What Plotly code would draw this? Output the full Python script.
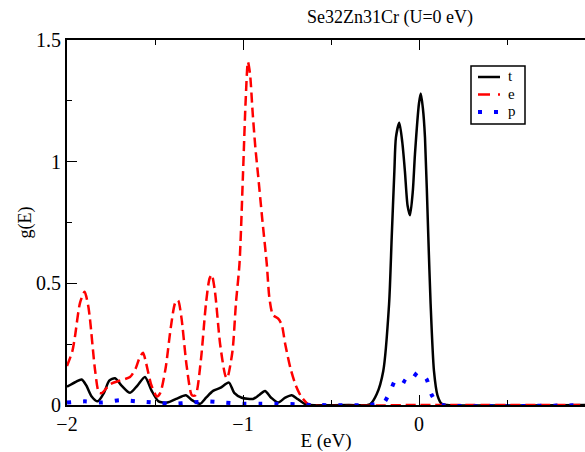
import plotly.graph_objects as go

# ---- data ----
t_E = [-2.00, -1.95, -1.917, -1.89, -1.86, -1.825, -1.79, -1.76, -1.727, -1.69, -1.642,
       -1.60, -1.557, -1.52, -1.48, -1.43, -1.38, -1.324, -1.29, -1.244, -1.21, -1.17,
       -1.13, -1.08, -1.05, -1.007, -0.943, -0.91, -0.875, -0.84, -0.801, -0.76, -0.723,
       -0.69, -0.65, -0.62, -0.40, -0.278, -0.24, -0.203, -0.17, -0.155, -0.14, -0.131,
       -0.112, -0.095, -0.08, -0.065, -0.051, -0.035, -0.023, 0.0, 0.01, 0.022, 0.034,
       0.053, 0.066, 0.085, 0.105, 0.129, 0.16, 1.0]
t_g = [0.075, 0.095, 0.105, 0.08, 0.035, 0.015, 0.05, 0.10, 0.11, 0.08, 0.05,
       0.08, 0.115, 0.06, 0.015, 0.01, 0.025, 0.04, 0.02, 0.005, 0.03, 0.058,
       0.07, 0.092, 0.05, 0.03, 0.025, 0.04, 0.058, 0.03, 0.01, 0.03, 0.04,
       0.025, 0.005, 0.0, 0.0, 0.003, 0.045, 0.14, 0.415, 0.69, 0.96, 1.10,
       1.16, 1.08, 0.96, 0.82, 0.78, 0.88, 1.03, 1.24, 1.28, 1.22, 1.10,
       0.69, 0.415, 0.14, 0.04, 0.005, 0.0, 0.0]

e_E = [-2.00, -1.97, -1.955, -1.926, -1.90, -1.88, -1.869, -1.84, -1.818, -1.80, -1.756,
       -1.70, -1.642, -1.61, -1.59, -1.568, -1.55, -1.52, -1.489, -1.47, -1.44, -1.41,
       -1.385, -1.369, -1.35, -1.32, -1.29, -1.27, -1.24, -1.21, -1.19, -1.178, -1.16,
       -1.13, -1.10, -1.09, -1.06, -1.04, -1.02, -1.00, -0.985, -0.972, -0.96, -0.945,
       -0.93, -0.915, -0.89, -0.865, -0.85, -0.83, -0.80, -0.78, -0.76, -0.73, -0.70,
       -0.67, -0.64, -0.62, 0.0, 1.0]
e_g = [0.16, 0.22, 0.28, 0.42, 0.465, 0.41, 0.35, 0.14, 0.05, 0.05, 0.085,
       0.10, 0.115, 0.15, 0.19, 0.215, 0.17, 0.08, 0.035, 0.05, 0.15, 0.32,
       0.42, 0.43, 0.36, 0.16, 0.04, 0.04, 0.18, 0.42, 0.52, 0.535, 0.47,
       0.25, 0.12, 0.11, 0.22, 0.42, 0.58, 0.95, 1.25, 1.41, 1.36, 1.20,
       1.06, 0.95, 0.76, 0.58, 0.44, 0.37, 0.355, 0.33, 0.25, 0.15, 0.08,
       0.035, 0.01, 0.0, 0.0, 0.0]

p_E = [-2.0, -1.9, -1.8, -1.7, -1.6, -1.5, -1.4, -1.3, -1.2, -1.1, -1.0, -0.9, -0.8,
       -0.7, -0.6, -0.3, -0.25, -0.2, -0.165, -0.125, -0.09, -0.057, -0.03, -0.006,
       0.02, 0.044, 0.07, 0.10, 0.13, 1.0]
p_g = [0.01, 0.015, 0.01, 0.02, 0.015, 0.01, 0.005, 0.01, 0.015, 0.01, 0.005, 0.005, 0.005,
       0.003, 0.0, 0.0, 0.003, 0.01, 0.055, 0.112, 0.10, 0.09, 0.115, 0.135,
       0.125, 0.105, 0.045, 0.01, 0.0, 0.0]

series_names = ["t", "e", "p"]
title = "Se32Zn31Cr (U=0 eV)"
x_ticks = [-2, -1, 0]
y_ticks = [0, 0.5, 1, 1.5]

FONT = "Liberation Serif, Times New Roman, serif"
COLORS = ["black", "#ff0000", "#0000ff"]
DASHES = ["solid", "10px,5px", "4px,12px"]
WIDTHS = [2.5, 2.5, 4]

# figure fills the whole 585x452 page (body margin removed by post_script)
W, H = 585, 452
L, T, B = 67, 40, 452 - 405
PW, PH = W - L, H - T - B


def px_x(px):  # page pixel -> paper x
    return (px - L) / PW


def px_y(py):  # page pixel -> paper y
    return (H - B - py) / PH


fig = go.Figure()
for name, xs, ys, c, d, w in zip(series_names, [t_E, e_E, p_E], [t_g, e_g, p_g],
                                 COLORS, DASHES, WIDTHS):
    fig.add_trace(go.Scatter(x=xs, y=ys, name=name, mode="lines", showlegend=False,
                             line=dict(color=c, width=w, dash=d,
                                       shape="spline", smoothing=0.7)))

# Grace-style legend box
shapes = [dict(type="rect", xref="paper", yref="paper",
               x0=px_x(471), x1=px_x(525), y0=px_y(124), y1=px_y(66),
               line=dict(color="black", width=1.5), fillcolor="white", layer="above")]
legend_dash = ["solid", "12px,8px,3px,40px", "4px,12px"]
legend_w = [2.5, 2.5, 4]
annotations = []
for i, name in enumerate(series_names):
    yc = 77 + i * 17.5
    shapes.append(dict(type="line", xref="paper", yref="paper",
                       x0=px_x(478), x1=px_x(500), y0=px_y(yc), y1=px_y(yc),
                       line=dict(color=COLORS[i], width=legend_w[i], dash=legend_dash[i]),
                       layer="above"))
    annotations.append(dict(text=name, xref="paper", yref="paper",
                            x=px_x(507), y=px_y(yc - 1), xanchor="left", yanchor="middle",
                            borderpad=0, showarrow=False,
                            font=dict(size=15, family=FONT, color="black")))

fig.update_layout(
    width=W, height=H,
    margin=dict(l=L, r=0, t=T, b=B, pad=0),
    paper_bgcolor="white", plot_bgcolor="white",
    font=dict(family=FONT, color="black", size=19),
    title=dict(text=title, x=px_x(390), xanchor="center", xref="paper",
               y=1 - 17 / H, yanchor="middle", font=dict(size=18)),
    showlegend=False,
    shapes=shapes,
    annotations=annotations,
)
fig.update_xaxes(
    range=[-2, -2 + PW / 176], tickvals=x_ticks,
    showline=True, linecolor="black", linewidth=2, mirror="allticks",
    ticks="inside", ticklen=10, tickwidth=1, tickcolor="black",
    minor=dict(dtick=0.5, ticks="inside", ticklen=5, tickwidth=1, tickcolor="black"),
    showgrid=False, zeroline=False,
    tickfont=dict(size=20),
    title=dict(text="E (eV)", font=dict(size=19), standoff=0),
)
fig.update_yaxes(
    range=[0, 1.5], tickvals=y_ticks,
    showline=True, linecolor="black", linewidth=2, mirror=False,
    ticks="inside", ticklen=10, tickwidth=1, tickcolor="black",
    minor=dict(dtick=0.25, ticks="inside", ticklen=5, tickwidth=1, tickcolor="black"),
    showgrid=False, zeroline=False,
    tickfont=dict(size=20),
    title=dict(text="g(E)", font=dict(size=18), standoff=0),
)

fig.write_html(
    "out.html",
    config={"displayModeBar": False},
    post_script="document.body.style.margin='0';document.body.style.overflow='hidden';",
)
